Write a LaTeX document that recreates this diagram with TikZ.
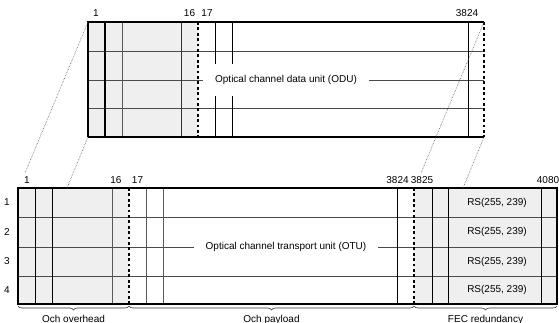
\documentclass[tikz,border=0pt]{standalone}
\usepackage{fontspec}
\setmainfont{Liberation Sans}
\usetikzlibrary{decorations.pathreplacing, positioning}
\definecolor{ohfill}{HTML}{EFEFEF}
\definecolor{gridline}{HTML}{4A4A4A}

\begin{document}
\begin{tikzpicture}[x=1pt, y=-1pt,
  every node/.style={font=\fontsize{10}{12}\selectfont, inner sep=0pt},
  frame/.style={black, line width=1.4pt},
  cut/.style={black, line width=1.7pt, dash pattern=on 2.8pt off 2.6pt},
  col/.style={black, line width=0.8pt},
  gcol/.style={black!65, line width=1pt},
  rowline/.style={gridline, line width=0.8pt},
  proj/.style={black!65, line width=0.6pt, dash pattern=on 0.6pt off 1pt},
  colnum/.style={anchor=base},
  unitlabel/.style={fill=white, inner xsep=12pt, inner ysep=11pt},
  span/.style={decorate, decoration={brace, mirror, amplitude=4pt}, black!80, line width=0.6pt},
  spanlabel/.style={anchor=base}
]
  \useasboundingbox (0,0) rectangle (559,323);

  % ODU frame
  \coordinate (odutl) at (88,22);
  \coordinate (odutr) at (484,22);
  \coordinate (odubl) at (88,137);
  \coordinate (odubr) at (484,137);
  \fill[ohfill] (odutl) rectangle (198,137);
  \foreach \y in {51,80,108} \draw[rowline] (88,\y) -- (484,\y);
  \draw[gcol] (122,22) -- (122,137);
  \draw[gcol, black!80] (181,22) -- (181,137);
  \draw[col] (215,22) -- (215,137);
  \draw[col] (232,22) -- (232,137);
  \draw[col] (468,22) -- (468,137);
  \node[unitlabel] (odu) at (286,80) {Optical channel data unit (ODU)};
  \draw[frame] (105,22) -- (105,137);
  \draw[frame] (odubl) -- (odutl) -- (odutr);
  \draw[frame] (odubl) -- (odubr);
  \draw[cut] (198,22) -- (198,137);
  \draw[cut] (odutr) -- (odubr);

  \node[colnum] (t1) at (96,16.5) {1};
  \node[colnum] (t16) at (189.5,16.5) {16};
  \node[colnum] (t17) at (207,16.5) {17};
  \node[colnum] (t3824) at (467,16.5) {3824};

  % OTU frame
  \coordinate (otutl) at (18,188);
  \coordinate (otubr) at (557,304);
  \fill[ohfill] (otutl) rectangle (129,304);
  \fill[ohfill] (414,188) rectangle (otubr);
  \foreach \y in {217,247,276} \draw[rowline] (18,\y) -- (557,\y);
  \foreach \x in {35,52,397,432,448,541} \draw[col] (\x,188) -- (\x,304);
  \foreach \x in {112,146,163} \draw[gcol] (\x,188) -- (\x,304);
  \node[unitlabel] (otu) at (286,247) {Optical channel transport unit (OTU)};
  \draw[frame] (otutl) rectangle (otubr);
  \draw[cut] (129,188) -- (129,304);
  \draw[cut] (414,188) -- (414,304);

  \node[colnum] (b1) at (27,183) {1};
  \node[colnum] (b16) at (116,183) {16};
  \node[colnum] (b17) at (137.5,183) {17};
  \node[colnum] (b3824) at (397.5,183) {3824};
  \node[colnum] (b3825) at (422,183) {3825};
  \node[colnum] (b4080) at (548,183) {4080};

  \node (r1) at (7,202.5) {1};
  \node (r2) at (7,232) {2};
  \node (r3) at (7,261.5) {3};
  \node (r4) at (7,290) {4};
  \node (rs1) at (497,202.5) {RS(255, 239)};
  \node (rs2) at (497,232) {RS(255, 239)};
  \node (rs3) at (497,261.5) {RS(255, 239)};
  \node (rs4) at (497,290) {RS(255, 239)};

  % projection lines
  \coordinate (p1) at (25,173);
  \coordinate (p2) at (67,188);
  \coordinate (p3) at (421,173);
  \coordinate (p4) at (463,188);
  \draw[proj] (odutl) -- (p1);
  \draw[proj] (odubl) -- (p2);
  \draw[proj] (odutr) -- (p3);
  \draw[proj] (odubr) -- (p4);

  % braces
  \coordinate (s0) at (18,306);
  \coordinate (s1) at (129,306);
  \coordinate (s2) at (414,306);
  \coordinate (s3) at (557,306);
  \draw[span] (s0) -- (s1);
  \draw[span] (s1) -- (s2);
  \draw[span] (s2) -- (s3);
  \node[spanlabel] (oh) at (73.5,322) {Och overhead};
  \node[spanlabel] (pl) at (271.5,322) {Och payload};
  \node[spanlabel] (fec) at (485.5,322) {FEC redundancy};
\end{tikzpicture}
\end{document}
